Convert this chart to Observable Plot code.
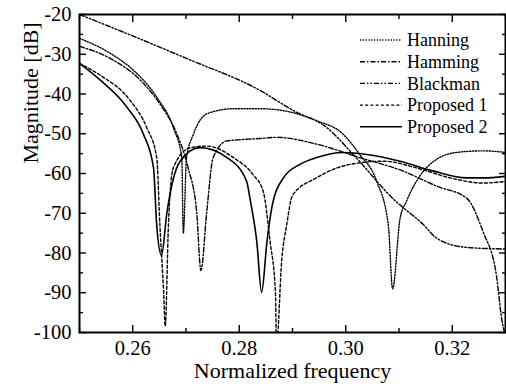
<!DOCTYPE html>
<html><head><meta charset="utf-8">
<script src="https://cdn.jsdelivr.net/npm/d3@7"></script>
<script src="https://cdn.jsdelivr.net/npm/@observablehq/plot@0.6"></script>
<style>
body{margin:0;background:#fff;font-family:'Liberation Serif';}
#chart{position:relative;width:506px;height:390px;}
#legend{position:absolute;left:0;top:0;}
</style></head><body><div id="chart"></div>
<script>
// ---- data ----
const seriesNames = ["Hanning", "Hamming", "Blackman", "Proposed 1", "Proposed 2"];
const seriesDash = ["1.2,1.6", "5,2,1.5,2", "5,2,1.5,2,1.5,2", "3,2.2", null];

const hanningF  = [0.25, 0.2557, 0.2601, 0.2645, 0.2676, 0.2692, 0.2695, 0.2701, 0.2714, 0.2739, 0.2789, 0.2839, 0.2883, 0.2945, 0.2995, 0.3026, 0.3058, 0.3080, 0.3088, 0.3102, 0.3114, 0.3146, 0.3171, 0.3208, 0.3258, 0.33];
const hanningDb = [-26, -29.7, -34, -40.8, -48.4, -56, -75, -56, -50.1, -45, -43.7, -43.7, -44.2, -46.7, -50.1, -55.2, -61.9, -73, -89, -71.3, -67, -59.4, -56.4, -54.7, -54.3, -54.7];

const hammingF  = [0.25, 0.2557, 0.2614, 0.2651, 0.2683, 0.2704, 0.2720, 0.2728, 0.2739, 0.2751, 0.2777, 0.2839, 0.2870, 0.2945, 0.3026, 0.3108, 0.3171, 0.3227, 0.3258, 0.3283, 0.3293, 0.3300];
const hammingDb = [-28, -31, -36.5, -42.5, -50.1, -58.6, -69.6, -84.4, -69.6, -56, -51.8, -51.2, -50.9, -52.6, -56, -59.4, -63.2, -66.2, -74.7, -85.7, -96.7, -101];

const blackmanF  = [0.25, 0.26, 0.27, 0.2839, 0.2902, 0.2964, 0.3014, 0.309, 0.3146, 0.3171, 0.3221, 0.3271, 0.33];
const blackmanDb = [-20, -25.4, -31, -39.1, -44.2, -48.4, -55.2, -66.5, -72.9, -76.3, -78.5, -78.9, -79];

const prop1F  = [0.25, 0.2539, 0.2595, 0.2626, 0.2645, 0.2651, 0.2658, 0.2661, 0.2667, 0.2676, 0.2708, 0.2739, 0.2789, 0.2826, 0.2845, 0.2858, 0.2868, 0.2870, 0.2880, 0.2889, 0.2900, 0.2945, 0.3008, 0.3071, 0.3133, 0.3196, 0.3258, 0.33];
const prop1Db = [-32.3, -35.3, -41.6, -48.4, -56, -73, -89.9, -98.4, -73, -58.6, -53.5, -53.1, -56, -60.3, -64.5, -77.2, -89.9, -103, -81.4, -73, -65.5, -61.1, -57.7, -56.9, -58.6, -61.1, -62.4, -62];

const prop2F  = [0.25, 0.2539, 0.2589, 0.2620, 0.2639, 0.2645, 0.2654, 0.2664, 0.2675, 0.2689, 0.2726, 0.2777, 0.2814, 0.2820, 0.2833, 0.2842, 0.2852, 0.2862, 0.2883, 0.2914, 0.2945, 0.2995, 0.3039, 0.3102, 0.3165, 0.3227, 0.3258, 0.33];
const prop2Db = [-32.3, -36.5, -43.3, -50.1, -58.6, -73, -80.6, -70, -62, -56.9, -53.5, -56, -62, -66.2, -77.2, -89.9, -77.2, -68, -61.1, -57.7, -56, -54.7, -55.2, -56.9, -59.4, -61.1, -61.1, -60.7];

const xMajor = [0.26, 0.28, 0.30, 0.32];
const xMinor = [0.25, 0.27, 0.29, 0.31, 0.33];
const yMajor = [-100, -90, -80, -70, -60, -50, -40, -30, -20];
const yMinor = [-95, -85, -75, -65, -55, -45, -35, -25];
const xLabel = "Normalized frequency";
const yLabel = "Magnitude [dB]";

// ---- build ----
const FONT = "Liberation Serif";
const allF = [hanningF, hammingF, blackmanF, prop1F, prop2F];
const allDb = [hanningDb, hammingDb, blackmanDb, prop1Db, prop2Db];
const series = seriesNames.map((name, k) => allF[k].map((f, i) => ({name, f, db: allDb[k][i]})));

const blank = () => "";
const tickOpts = {label: null, tickFormat: blank, strokeWidth: 1.4};

const lines = series.map((data, k) => Plot.line(data, {
  x: "f", y: "db", curve: "monotone-x", stroke: "#000",
  strokeWidth: k === 4 ? 1.6 : 1.4,
  strokeDasharray: seriesDash[k] || undefined
}));

const plot = Plot.plot({
  width: 506, height: 390,
  marginLeft: 79, marginRight: 1, marginTop: 14, marginBottom: 58,
  style: "font-family: 'Liberation Serif'; font-size: 20.5px; color: #000; background: #fff;",
  x: {domain: [0.25, 0.33]},
  y: {domain: [-100, -20]},
  clip: true,
  marks: [
    Plot.axisX({ticks: xMajor, tickSize: 0, tickPadding: 8, tickFormat: d => d.toFixed(2), label: null, fontFamily: FONT}),
    Plot.axisX({ticks: xMajor, tickSize: -7, ...tickOpts}),
    Plot.axisX({ticks: xMinor, tickSize: -4, ...tickOpts}),
    Plot.axisX({anchor: "top", ticks: xMajor, tickSize: -7, ...tickOpts}),
    Plot.axisX({anchor: "top", ticks: xMinor, tickSize: -4, ...tickOpts}),
    Plot.axisY({ticks: yMajor, tickSize: 0, tickPadding: 8, tickFormat: d => String(d), label: null, fontFamily: FONT}),
    Plot.axisY({ticks: yMajor, tickSize: -7, ...tickOpts}),
    Plot.axisY({ticks: yMinor, tickSize: -4, ...tickOpts}),
    Plot.axisY({anchor: "right", ticks: yMajor, tickSize: -7, ...tickOpts}),
    Plot.axisY({anchor: "right", ticks: yMinor, tickSize: -4, ...tickOpts}),
    ...lines,
    Plot.frame({stroke: "#000", strokeWidth: 2, clip: false}),
    Plot.text([xLabel], {text: d => d, frameAnchor: "bottom", dy: 45, fontSize: 22, fontFamily: FONT, clip: false}),
    Plot.text([yLabel], {text: d => d, frameAnchor: "left", dx: -49, dy: -10, rotate: -90, fontSize: 22, fontFamily: FONT, clip: false})
  ]
});
const chart = document.getElementById("chart");
chart.appendChild(plot);
d3.select(plot).selectAll("text").attr("font-family", FONT).style("font-family", FONT);

// ---- legend (inside the frame, top right) ----
const leg = d3.select(chart).append("svg").attr("id", "legend")
  .attr("width", 506).attr("height", 390);
const rowY = (i) => 40 + i * 21.7;
seriesNames.forEach((name, i) => {
  const g = leg.append("g").attr("transform", `translate(0,${rowY(i)})`);
  g.append("line").attr("x1", 360).attr("x2", 402).attr("y1", 0).attr("y2", 0)
    .attr("stroke", "#000").attr("stroke-width", i === 4 ? 1.6 : 1.4)
    .attr("stroke-dasharray", seriesDash[i]);
  g.append("text").attr("x", 407).attr("y", 0).attr("dy", "0.35em")
    .attr("font-family", FONT).attr("font-size", 18).style("font-family", FONT).text(name);
});
</script></body></html>
